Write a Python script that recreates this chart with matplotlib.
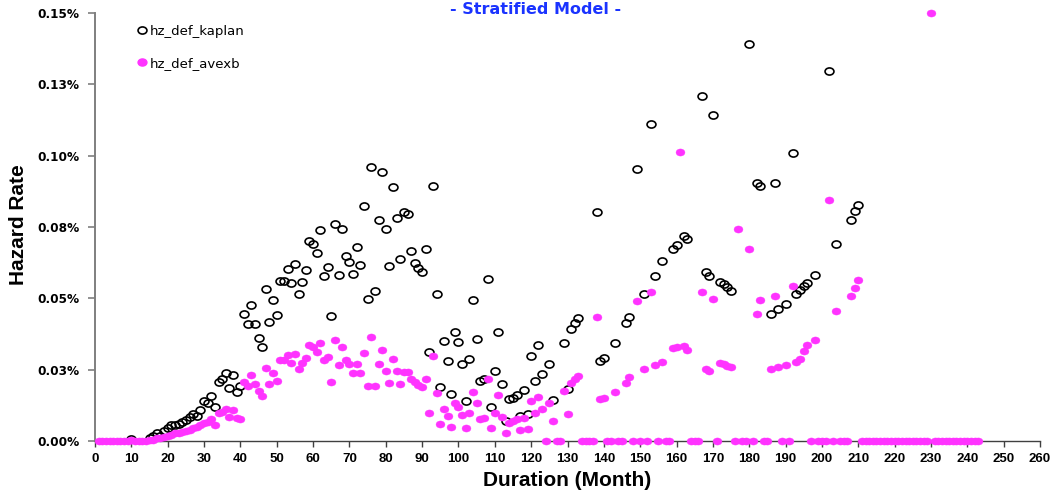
import numpy as np
import matplotlib
matplotlib.use("Agg")
import matplotlib.pyplot as plt
from matplotlib.path import Path
from matplotlib.lines import Line2D

nan = float("nan")

# ---------------- data (hazard rate in %) ----------------
# nan = month where the Kaplan marker is hidden under the avexb zero markers
title = "- Stratified Model -"
x_label = "Duration (Month)"
y_label = "Hazard Rate"
series_names = ["hz_def_kaplan", "hz_def_avexb"]
x_ticks = list(range(0, 261, 10))
y_ticks = [0.0, 0.025, 0.05, 0.075, 0.10, 0.125, 0.15]
y_tick_labels = ["0.00%", "0.03%", "0.05%", "0.08%", "0.10%", "0.13%", "0.15%"]

kaplan_months = list(range(1, 211))
kaplan_001_040 = [nan, nan, nan, nan, nan, nan, nan, nan, nan, 0.0006,
                  nan, nan, nan, nan, 0.0011, 0.0016, 0.0027, 0.0019, 0.0035, 0.0047,
                  0.0055, 0.0055, 0.0060, 0.0068, 0.0072, 0.0085, 0.0094, 0.0088, 0.0110, 0.0140,
                  0.0134, 0.0158, 0.0118, 0.0208, 0.0217, 0.0240, 0.0185, 0.0232, 0.0171, 0.0192]
kaplan_041_080 = [0.0445, 0.0410, 0.0478, 0.0410, 0.0362, 0.0331, 0.0532, 0.0416, 0.0495, 0.0441,
                  0.0560, 0.0562, 0.0602, 0.0554, 0.0620, 0.0515, 0.0557, 0.0598, 0.0701, 0.0689,
                  0.0659, 0.0738, 0.0578, 0.0609, 0.0438, 0.0760, 0.0582, 0.0742, 0.0648, 0.0628,
                  0.0585, 0.0681, 0.0617, 0.0825, 0.0498, 0.0959, 0.0527, 0.0776, 0.0942, 0.0743]
kaplan_081_120 = [0.0612, 0.0891, 0.0782, 0.0638, 0.0802, 0.0797, 0.0665, 0.0623, 0.0606, 0.0591,
                  0.0674, 0.0311, 0.0893, 0.0515, 0.0188, 0.0350, 0.0280, 0.0164, 0.0382, 0.0348,
                  0.0270, 0.0139, 0.0286, 0.0495, 0.0358, 0.0211, 0.0217, 0.0568, 0.0118, 0.0244,
                  0.0382, 0.0199, 0.0069, 0.0146, 0.0152, 0.0160, 0.0087, 0.0179, 0.0095, 0.0299]
kaplan_121_160 = [0.0210, 0.0336, 0.0235, nan, 0.0271, 0.0144, nan, nan, 0.0345, 0.0183,
                  0.0392, 0.0413, 0.0431, nan, nan, nan, nan, 0.0803, 0.0280, 0.0290,
                  nan, nan, 0.0345, nan, nan, 0.0415, 0.0434, nan, 0.0952, nan,
                  0.0514, nan, 0.1110, 0.0579, nan, 0.0632, nan, nan, 0.0673, 0.0687]
kaplan_161_210 = [nan, 0.0720, 0.0708, nan, nan, nan, 0.1208, 0.0593, 0.0578, 0.1143,
                  nan, 0.0558, 0.0550, 0.0539, 0.0525, nan, nan, nan, nan, 0.1390,
                  nan, 0.0903, 0.0894, nan, nan, 0.0444, 0.0904, 0.0464, nan, 0.0481,
                  nan, 0.1008, 0.0516, 0.0529, 0.0543, 0.0555, nan, 0.0583, nan, nan,
                  nan, 0.1296, nan, 0.0689, nan, nan, nan, 0.0775, 0.0806, 0.0828]

avexb_months = list(range(1, 244))
avexb_001_040 = [0, 0, 0, 0, 0, 0, 0, 0, 0, 0.0005,
                 0, 0, 0, 0, 0.0003, 0.0005, 0.0010, 0.0010, 0.0014, 0.0018,
                 0.0021, 0.0027, 0.0027, 0.0030, 0.0036, 0.0040, 0.0044, 0.0050, 0.0055, 0.0064,
                 0.0068, 0.0076, 0.0056, 0.0099, 0.0103, 0.0113, 0.0085, 0.0109, 0.0082, 0.0077]
avexb_041_080 = [0.0208, 0.0194, 0.0231, 0.0199, 0.0176, 0.0159, 0.0256, 0.0200, 0.0237, 0.0211,
                 0.0284, 0.0284, 0.0303, 0.0274, 0.0306, 0.0252, 0.0273, 0.0292, 0.0335, 0.0329,
                 0.0311, 0.0345, 0.0284, 0.0293, 0.0207, 0.0354, 0.0265, 0.0331, 0.0285, 0.0271,
                 0.0239, 0.0271, 0.0237, 0.0310, 0.0194, 0.0365, 0.0192, 0.0270, 0.0319, 0.0245]
avexb_081_120 = [0.0202, 0.0286, 0.0245, 0.0199, 0.0241, 0.0241, 0.0216, 0.0206, 0.0196, 0.0190,
                 0.0216, 0.0099, 0.0298, 0.0169, 0.0061, 0.0112, 0.0089, 0.0050, 0.0132, 0.0118,
                 0.0091, 0.0047, 0.0099, 0.0173, 0.0132, 0.0077, 0.0082, 0.0216, 0.0045, 0.0097,
                 0.0161, 0.0085, 0.0029, 0.0064, 0.0070, 0.0076, 0.0039, 0.0082, 0.0043, 0.0139]
avexb_121_160 = [0.0097, 0.0155, 0.0111, 0, 0.0132, 0.0071, 0, 0, 0.0174, 0.0094,
                 0.0202, 0.0216, 0.0228, 0, 0, 0, 0, 0.0435, 0.0147, 0.0152,
                 0, 0, 0.0171, 0, 0, 0.0202, 0.0223, 0, 0.0490, 0,
                 0.0253, 0, 0.0521, 0.0265, 0, 0.0277, 0, 0, 0.0325, 0.0331]
avexb_161_210 = [0.1012, 0.0334, 0.0319, 0, 0, 0, 0.0521, 0.0251, 0.0245, 0.0499,
                 0, 0.0272, 0.0269, 0.0264, 0.0259, 0, 0.0743, 0, 0, 0.0672,
                 0, 0.0446, 0.0493, 0, 0, 0.0251, 0.0507, 0.0259, 0, 0.0265,
                 0, 0.0542, 0.0277, 0.0286, 0.0317, 0.0335, 0, 0.0355, 0, 0,
                 0, 0.0846, 0, 0.0455, 0, 0, 0, 0.0508, 0.0536, 0.0564]
avexb_211_243 = [0, 0, 0, 0, 0, 0, 0, 0, 0, 0,
                 0, 0, 0, 0, 0, 0, 0, 0, 0, 0.150,
                 0, 0, 0, 0, 0, 0, 0, 0, 0, 0,
                 0, 0, 0]

kaplan_values = kaplan_001_040 + kaplan_041_080 + kaplan_081_120 + kaplan_121_160 + kaplan_161_210
avexb_values = (avexb_001_040 + avexb_041_080 + avexb_081_120 + avexb_121_160
                + avexb_161_210 + avexb_211_243)

# ---------------- styling ----------------
MAGENTA = "#ff33ff"
BLUE = "#1a33ff"
GRAY = "#7f7f7f"
MS = 6.4

circ = Path.unit_circle()
ellipse = Path(circ.vertices * np.array([1.0, 0.80]), circ.codes)

fig = plt.figure(figsize=(10.54, 4.95), dpi=100)
ax = fig.add_axes([95 / 1054, 1 - 441 / 495, 945 / 1054, 428 / 495])

ax.plot(kaplan_months, kaplan_values, linestyle="none", marker=ellipse, markersize=MS,
        markerfacecolor="none", markeredgecolor="black", markeredgewidth=1.2,
        clip_on=False, zorder=3)
ax.plot(avexb_months, avexb_values, linestyle="none", marker=ellipse, markersize=MS,
        markerfacecolor=MAGENTA, markeredgecolor=MAGENTA, markeredgewidth=0.3,
        clip_on=False, zorder=4)

ax.set_xlim(0, 260)
ax.set_ylim(0, 0.15)
ax.set_xticks(x_ticks)
ax.set_xticklabels([str(t) for t in x_ticks])
ax.set_yticks(y_ticks)
ax.set_yticklabels(y_tick_labels)

for s in ["top", "right"]:
    ax.spines[s].set_visible(False)
ax.spines["left"].set_color(GRAY)
ax.spines["left"].set_linewidth(1.4)
ax.spines["bottom"].set_color("#404040")
ax.spines["bottom"].set_linewidth(1.0)

ax.tick_params(axis="y", direction="out", length=5, width=1.2, color=GRAY, pad=6)
ax.tick_params(axis="x", direction="out", length=4, width=1.0, color="#404040", pad=5)

for lab in ax.get_yticklabels():
    lab.set_fontfamily("DejaVu Sans")
    lab.set_fontweight("bold")
    lab.set_fontsize(8.7)
for lab in ax.get_xticklabels():
    lab.set_fontfamily(["Liberation Sans Narrow", "Liberation Sans", "DejaVu Sans"])
    lab.set_fontweight("bold")
    lab.set_fontsize(9.5)

fig.text(536 / 1054, 1 - 10 / 495, title, color=BLUE, fontsize=11.5, fontweight="bold",
         family="DejaVu Sans", ha="center", va="center")
fig.text(19 / 1054, 1 - 225 / 495, y_label, rotation=90, fontsize=15, fontweight="bold",
         family=["Liberation Sans", "DejaVu Sans"], ha="center", va="center")
fig.text(567 / 1054, 1 - 480 / 495, x_label, fontsize=15, fontweight="bold",
         family=["Liberation Sans", "DejaVu Sans"], ha="center", va="center")

handles = [
    Line2D([], [], linestyle="none", marker=ellipse, markersize=MS, markerfacecolor="none",
           markeredgecolor="black", markeredgewidth=1.2),
    Line2D([], [], linestyle="none", marker=ellipse, markersize=MS, markerfacecolor=MAGENTA,
           markeredgecolor=MAGENTA),
]
leg = ax.legend(handles, series_names, loc="upper left", bbox_to_anchor=(0.03, 1.0),
                frameon=False, labelspacing=1.45, handletextpad=0.1, handlelength=1.0,
                prop={"family": "DejaVu Sans", "size": 9.5})

fig.savefig("out.png", dpi=100)
